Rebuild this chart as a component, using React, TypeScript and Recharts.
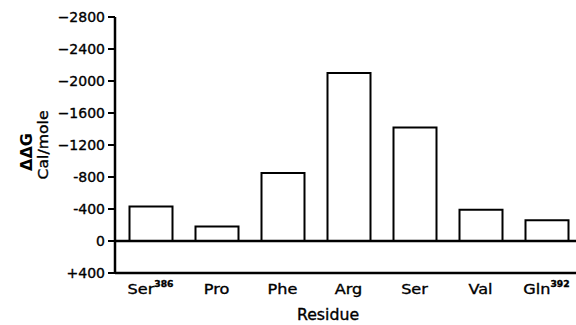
import React from 'react';
import { BarChart, Bar, XAxis, YAxis, ReferenceLine } from 'recharts';

const residues = ['Ser', 'Pro', 'Phe', 'Arg', 'Ser', 'Val', 'Gln'];
const superscripts = ['386', '', '', '', '', '', '392'];
const ddG = [-430, -180, -850, -2100, -1420, -390, -260];
const yTicks = [-2800, -2400, -2000, -1600, -1200, -800, -400, 0, 400];
const yTickLabels = ['\u22122800', '\u22122400', '\u22122000', '\u22121600', '\u22121200', '-800', '-400', '0', '+400'];

const data = residues.map((r, i) => ({ key: `${r}${superscripts[i]}#${i}`, value: ddG[i] }));

const FONT = '"DejaVu Sans", sans-serif';
const HEAVY = { stroke: '#000', strokeWidth: 0.35 };

const XTick = (props: any) => {
  const { x, y, payload } = props;
  const i = data.findIndex((d) => d.key === payload.value);
  const by = y + 21;
  return (
    <g transform={`translate(${x},${by}) scale(1.15,1)`}>
      <text x={0} y={0} textAnchor="middle" fontFamily={FONT} fontSize={14} fill="#000" {...HEAVY}>
        {residues[i]}
        {superscripts[i] ? (
          <tspan dy={-7} fontSize={8} fontWeight="bold">{superscripts[i]}</tspan>
        ) : null}
      </text>
    </g>
  );
};

const YTick = (props: any) => {
  const { x, y, payload } = props;
  const idx = yTicks.indexOf(payload.value);
  return (
    <text x={x} y={y} dy="0.36em" textAnchor="end" fontFamily={FONT} fontSize={14} fill="#000" {...HEAVY}>
      {yTickLabels[idx]}
    </text>
  );
};

const YLabel = () => (
  <g>
    <g transform="translate(32,171) rotate(-90)">
      <text x={0} y={0} textAnchor="start" fontFamily={FONT} fontSize={16} fontWeight="bold" fill="#000">
        ΔΔG
      </text>
    </g>
    <g transform="translate(48,145) rotate(-90) scale(1.12,1)">
      <text x={0} y={0} textAnchor="middle" fontFamily={FONT} fontSize={14} fill="#000" {...HEAVY}>
        Cal/mole
      </text>
    </g>
  </g>
);

const XLabel = () => (
  <g transform="translate(328,320) scale(1.05,1)">
    <text x={0} y={0} textAnchor="middle" fontFamily={FONT} fontSize={15} fill="#000" {...HEAVY}>
      Residue
    </text>
  </g>
);

export default function App() {
  return (
    <div style={{ position: 'absolute', left: 0, top: 0, width: 576, height: 325, overflow: 'hidden', background: '#fff' }}>
      <BarChart
        width={582}
        height={325}
        data={data}
        margin={{ top: 17, right: 2.5, bottom: 0, left: 0 }}
        barSize={43}
      >
        <XAxis
          dataKey="key"
          height={52}
          interval={0}
          tickLine={false}
          tickSize={0}
          tickMargin={0}
          padding={{ left: 2.5, right: 0 }}
          axisLine={{ stroke: '#000', strokeWidth: 2.5 }}
          tick={<XTick />}
          label={{ content: () => <XLabel /> }}
        />
        <YAxis
          width={115}
          domain={[-2800, 400]}
          reversed
          ticks={yTicks}
          interval={0}
          allowDataOverflow
          tickSize={7}
          tickMargin={3}
          axisLine={{ stroke: '#000', strokeWidth: 2.5 }}
          tickLine={{ stroke: '#000', strokeWidth: 2 }}
          tick={<YTick />}
          label={{ content: () => <YLabel /> }}
        />
        <ReferenceLine y={0} stroke="#000" strokeWidth={2.5} />
        <Bar dataKey="value" fill="#fff" stroke="#000" strokeWidth={2} isAnimationActive={false} />
      </BarChart>
    </div>
  );
}
